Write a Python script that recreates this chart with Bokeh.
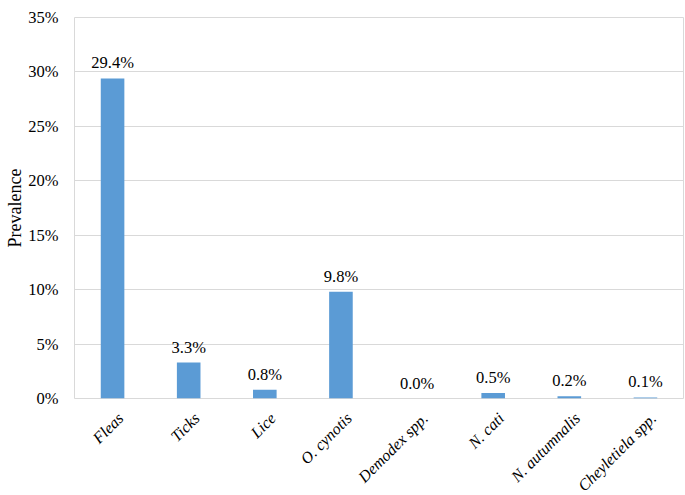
import math
from bokeh.plotting import figure
from bokeh.layouts import column
from bokeh.models import ColumnDataSource, FactorRange, Range1d, NumeralTickFormatter, FixedTicker
from bokeh.core.properties import value
from bokeh.embed import file_html
from bokeh.resources import INLINE

categories = ["Fleas", "Ticks", "Lice", "O. cynotis", "Demodex spp.", "N. cati", "N. autumnalis", "Cheyletiela spp."]
prevalence = [0.294, 0.033, 0.008, 0.098, 0.000, 0.005, 0.002, 0.001]
labels = ["29.4%", "3.3%", "0.8%", "9.8%", "0.0%", "0.5%", "0.2%", "0.1%"]
y_ticks = [0, 0.05, 0.10, 0.15, 0.20, 0.25, 0.30, 0.35]

FONT = "Liberation Serif"

src = ColumnDataSource(dict(cat=categories, val=prevalence, lab=labels, one=[1] * len(categories)))
xr = FactorRange(*categories, range_padding=0)

# main chart
p = figure(width=684, height=408, x_range=xr, y_range=Range1d(0, y_ticks[-1]),
           output_backend="svg", toolbar_location=None, x_axis_location=None,
           min_border_left=74, min_border_top=17, min_border_right=1, min_border_bottom=10)

p.vbar(x="cat", top="val", width=0.31, source=src, fill_color="#5B9BD5", line_color=None)
p.text(x="cat", y="val", text="lab", source=src, text_align="center", text_baseline="bottom",
       y_offset=-6, text_font=value(FONT), text_font_size="16.5px", text_color="#000000")

p.outline_line_color = "#d9d9d9"
p.xgrid.grid_line_color = None
p.ygrid.grid_line_color = "#d9d9d9"
p.ygrid.grid_line_width = 1

p.yaxis.ticker = FixedTicker(ticks=y_ticks)
p.yaxis.formatter = NumeralTickFormatter(format="0%")
p.yaxis.axis_line_color = None
p.yaxis.major_tick_line_color = None
p.yaxis.minor_tick_line_color = None
p.yaxis.major_tick_out = 0
p.yaxis.major_tick_in = 0
p.yaxis.minor_tick_out = 0
p.yaxis.minor_tick_in = 0
p.yaxis.major_label_standoff = 16
p.yaxis.major_label_text_font = FONT
p.yaxis.major_label_text_font_size = "16.5px"
p.yaxis.major_label_text_color = "#000000"
p.yaxis.axis_label = "Prevalence"
p.yaxis.axis_label_text_font = FONT
p.yaxis.axis_label_text_font_size = "18px"
p.yaxis.axis_label_text_font_style = "normal"
p.yaxis.axis_label_text_color = "#000000"
p.yaxis.axis_label_standoff = 0

# category labels strip (rotated, running to the bottom edge like the reference)
q = figure(width=684, height=86, x_range=xr, y_range=Range1d(0, 1),
           output_backend="svg", toolbar_location=None,
           x_axis_location=None, y_axis_location=None,
           min_border_left=74, min_border_top=0, min_border_right=1, min_border_bottom=0)
q.outline_line_color = None
q.xgrid.grid_line_color = None
q.ygrid.grid_line_color = None
q.text(x="cat", y="one", text="cat", source=src, angle=math.pi / 4,
       text_align="right", text_baseline="top", x_offset=2, y_offset=1,
       text_font=value(FONT), text_font_size="16px", text_font_style="italic",
       text_color="#000000")

layout = column(p, q, spacing=0)
open("out.html", "w").write(file_html(layout, INLINE))
